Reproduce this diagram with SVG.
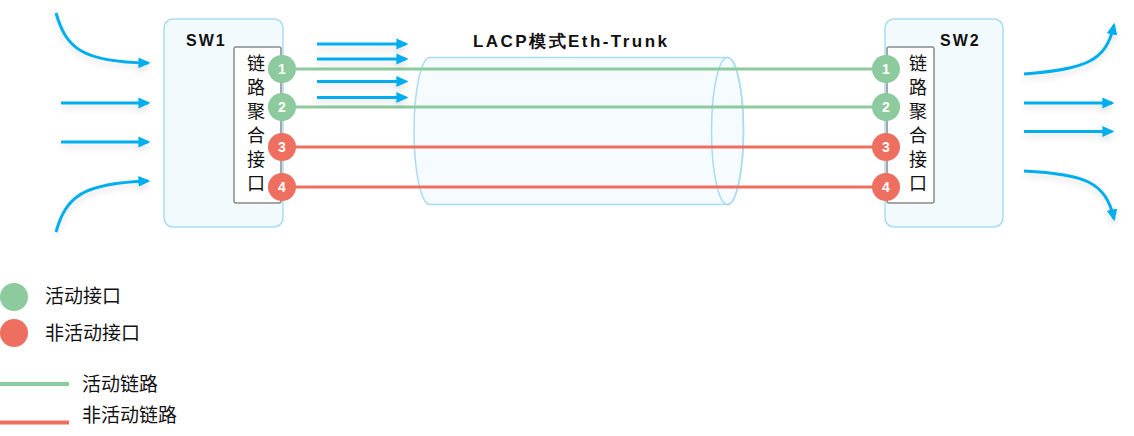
<svg xmlns="http://www.w3.org/2000/svg" width="1134" height="436" viewBox="0 0 1134 436">
<defs>
<style>
.sw{fill:#f3fafe;stroke:#a8dcf5;stroke-width:1.5}
.inner{fill:#ffffff;stroke:#8a8a8a;stroke-width:1.5}
.lbl{font-family:"Liberation Sans","DejaVu Sans",sans-serif;font-weight:bold;font-size:16px;fill:#111;letter-spacing:2px}
.vt{font-family:"Noto Sans CJK SC",sans-serif;font-size:18px;fill:#111;writing-mode:vertical-rl;letter-spacing:6px}
.num{font-family:"Liberation Sans",sans-serif;font-weight:bold;font-size:14px;fill:#fff;text-anchor:middle}
.g{fill:#8dca9e}
.r{fill:#ee6f5f}
.gl{stroke:#8dca9e;stroke-width:3;fill:none}
.rl{stroke:#ee6f5f;stroke-width:3;fill:none}
.arr{stroke:#00aeef;stroke-width:3;fill:none;marker-end:url(#ah)}
.leg{font-family:"Noto Sans CJK SC",sans-serif;font-size:19px;fill:#111}
</style>
<marker id="ah" markerUnits="userSpaceOnUse" markerWidth="12" markerHeight="12" viewBox="0 0 10 10" refX="8" refY="5" orient="auto">
<path d="M0,0.5 L10,5 L0,9.5 z" fill="#00aeef"/>
</marker>
<filter id="sh" filterUnits="userSpaceOnUse" x="0" y="0" width="1134" height="436">
<feDropShadow dx="0" dy="4" stdDeviation="3" flood-color="#000" flood-opacity="0.12"/>
</filter>
</defs>

<g id="trunk">
<path d="M430,57.5 L727.5,57.5 A16,73.5 0 0 1 727.5,204.5 L430,204.5 A16,73.5 0 0 1 430,57.5 Z" fill="#f3fafe" fill-opacity="0.85" stroke="#a8dcf5" stroke-width="1.5"/>
<ellipse cx="727.5" cy="131" rx="16" ry="73.5" fill="none" stroke="#a8dcf5" stroke-width="1.5"/>
<text x="473" y="47" class="lbl" style="font-size:17px;letter-spacing:0" textLength="194" lengthAdjust="spacing">LACP模式Eth-Trunk</text>
</g>

<g id="connectors">
<line x1="282" y1="69" x2="886" y2="69" class="gl"/>
<line x1="282" y1="107" x2="886" y2="107" class="gl"/>
<line x1="282" y1="147" x2="886" y2="147" class="rl"/>
<line x1="282" y1="187" x2="886" y2="187" class="rl"/>
<g filter="url(#sh)">
<path class="arr" d="M56,13 C66,48 82,62 148,63"/>
<path class="arr" d="M61,103 L148,103"/>
<path class="arr" d="M61,142 L148,142"/>
<path class="arr" d="M56,232 C66,197 82,183 148,181"/>
<path class="arr" d="M317,44 L406,44"/>
<path class="arr" d="M317,59 L406,59"/>
<path class="arr" d="M317,81.5 L406,81.5"/>
<path class="arr" d="M317,97.5 L406,97.5"/>
<path class="arr" d="M1024,74 C1085,69 1106,62 1114,25"/>
<path class="arr" d="M1024,103 L1112,103"/>
<path class="arr" d="M1024,131.5 L1112,131.5"/>
<path class="arr" d="M1024,171 C1085,174 1106,182 1114,219"/>
</g>
</g>

<g id="sw1">
<rect x="164" y="19" width="119" height="208" rx="9" class="sw"/>
<text x="186" y="46" class="lbl">SW1</text>
<rect x="234" y="47" width="47" height="156" rx="2" class="inner"/>
<text x="256" y="54" class="vt">链路聚合接口</text>
<circle cx="282" cy="69" r="14" class="g"/><text x="282" y="74" class="num">1</text>
<circle cx="282" cy="107" r="14" class="g"/><text x="282" y="112" class="num">2</text>
<circle cx="282" cy="147" r="14" class="r"/><text x="282" y="152" class="num">3</text>
<circle cx="282" cy="187" r="14" class="r"/><text x="282" y="192" class="num">4</text>
</g>

<g id="sw2">
<rect x="885" y="19" width="118" height="208" rx="9" class="sw"/>
<text x="940" y="46" class="lbl">SW2</text>
<rect x="887" y="47" width="47" height="156" rx="2" class="inner"/>
<text x="918" y="54" class="vt">链路聚合接口</text>
<circle cx="886" cy="69" r="14" class="g"/><text x="886" y="74" class="num">1</text>
<circle cx="886" cy="107" r="14" class="g"/><text x="886" y="112" class="num">2</text>
<circle cx="886" cy="147" r="14" class="r"/><text x="886" y="152" class="num">3</text>
<circle cx="886" cy="187" r="14" class="r"/><text x="886" y="192" class="num">4</text>
</g>

<g id="legend">
<circle cx="14" cy="297" r="14" class="g"/>
<text x="45" y="303" class="leg">活动接口</text>
<circle cx="14" cy="333" r="14" class="r"/>
<text x="45" y="340" class="leg">非活动接口</text>
<line x1="0" y1="384" x2="69" y2="384" stroke="#8dca9e" stroke-width="4"/>
<text x="82" y="391" class="leg">活动链路</text>
<line x1="0" y1="422.5" x2="69" y2="422.5" stroke="#ee6f5f" stroke-width="4"/>
<text x="82" y="422" class="leg">非活动链路</text>
</g>
</svg>
